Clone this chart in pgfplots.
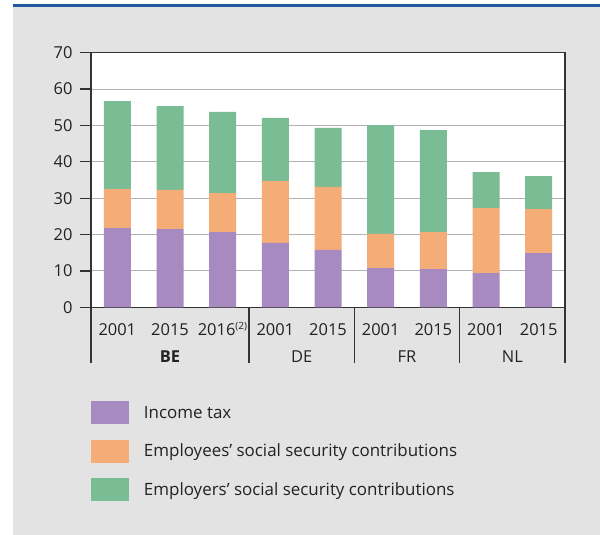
\documentclass[border=0pt]{standalone}
\usepackage{pgfplots}
\pgfplotsset{compat=1.18}
\usepackage{fontspec}
\setmainfont{Open Sans}
\definecolor{bgray}{HTML}{E3E3E3}
\definecolor{bline}{HTML}{1F5A9E}
\definecolor{cinc}{HTML}{A78AC0}
\definecolor{cemp}{HTML}{F5AD78}
\definecolor{cer}{HTML}{7ABC94}
\definecolor{axc}{HTML}{333333}
\definecolor{txt}{HTML}{222222}
\begin{document}
\begin{tikzpicture}
\fill[white] (0,0) rectangle (600bp,-535bp);
\fill[bgray] (13bp,-7bp) rectangle (600bp,-535bp);
\fill[bline] (13bp,-4bp) rectangle (600bp,-7bp);
\begin{axis}[
  at={(91bp,-307.3bp)}, anchor=south west,
  scale only axis, width=474bp, height=254.6bp,
  xmin=-0.5, xmax=8.5, ymin=0, ymax=70,
  ybar stacked, bar width=27bp,
  axis background/.style={fill=white},
  axis line style={axc, line width=1.2bp},
  xtick=data,
  xticklabels={2001,2015,2016\textsuperscript{\fontsize{10}{11}\selectfont(2)},2001,2015,2001,2015,2001,2015},
  x tick style={draw=none},
  ytick={0,10,...,70},
  ytick pos=left,
  y tick style={axc, line width=1.2bp},
  tick align=outside, major tick length=11bp,
  ymajorgrids, major grid style={black!30, line width=1bp},
  /pgf/number format/assume math mode=true,
  tick label style={font=\fontsize{16.5}{19}\selectfont, text=txt},
  xticklabel style={anchor=base, yshift=-17.5bp},
  yticklabel style={xshift=-4bp},
  clip=false,
  legend style={at={(0,0)}, anchor=north west, yshift=-94bp, draw=none, fill=none,
    inner sep=0pt, outer sep=0pt, row sep=15.5bp,
    font=\fontsize{17}{19}\selectfont, text=txt, cells={anchor=west}},
  legend image code/.code={\fill[#1, draw=none] (0bp,-11.5bp) rectangle (38bp,11.5bp); \path (51bp,0bp);},
]
\addplot[fill=cinc, draw=none] coordinates {(0,21.8) (1,21.5) (2,20.7) (3,17.7) (4,15.8) (5,10.8) (6,10.5) (7,9.4) (8,14.9)};
\addplot[fill=cemp, draw=none] coordinates {(0,10.7) (1,10.8) (2,10.7) (3,17.0) (4,17.3) (5,9.4) (6,10.2) (7,17.9) (8,12.1)};
\addplot[fill=cer, draw=none] coordinates {(0,24.2) (1,23.0) (2,22.3) (3,17.4) (4,16.2) (5,29.9) (6,28.0) (7,9.9) (8,9.1)};
\legend{Income tax, Employees’ social security contributions, Employers’ social security contributions}
\foreach \s in {-0.5,2.5,4.5,6.5,8.5} {
  \edef\tmp{\noexpand\draw[axc, line width=1.2bp] (axis cs:\s,0) -- ++(0bp,-56bp);}\tmp
}
\node[anchor=base, text=txt, font=\fontsize{16.5}{19}\selectfont\bfseries] at (axis cs:1,0) [yshift=-55.5bp] {BE};
\node[anchor=base, text=txt, font=\fontsize{16.5}{19}\selectfont] at (axis cs:3.5,0) [yshift=-55.5bp] {DE};
\node[anchor=base, text=txt, font=\fontsize{16.5}{19}\selectfont] at (axis cs:5.5,0) [yshift=-55.5bp] {FR};
\node[anchor=base, text=txt, font=\fontsize{16.5}{19}\selectfont] at (axis cs:7.5,0) [yshift=-55.5bp] {NL};
\end{axis}
\end{tikzpicture}
\end{document}
